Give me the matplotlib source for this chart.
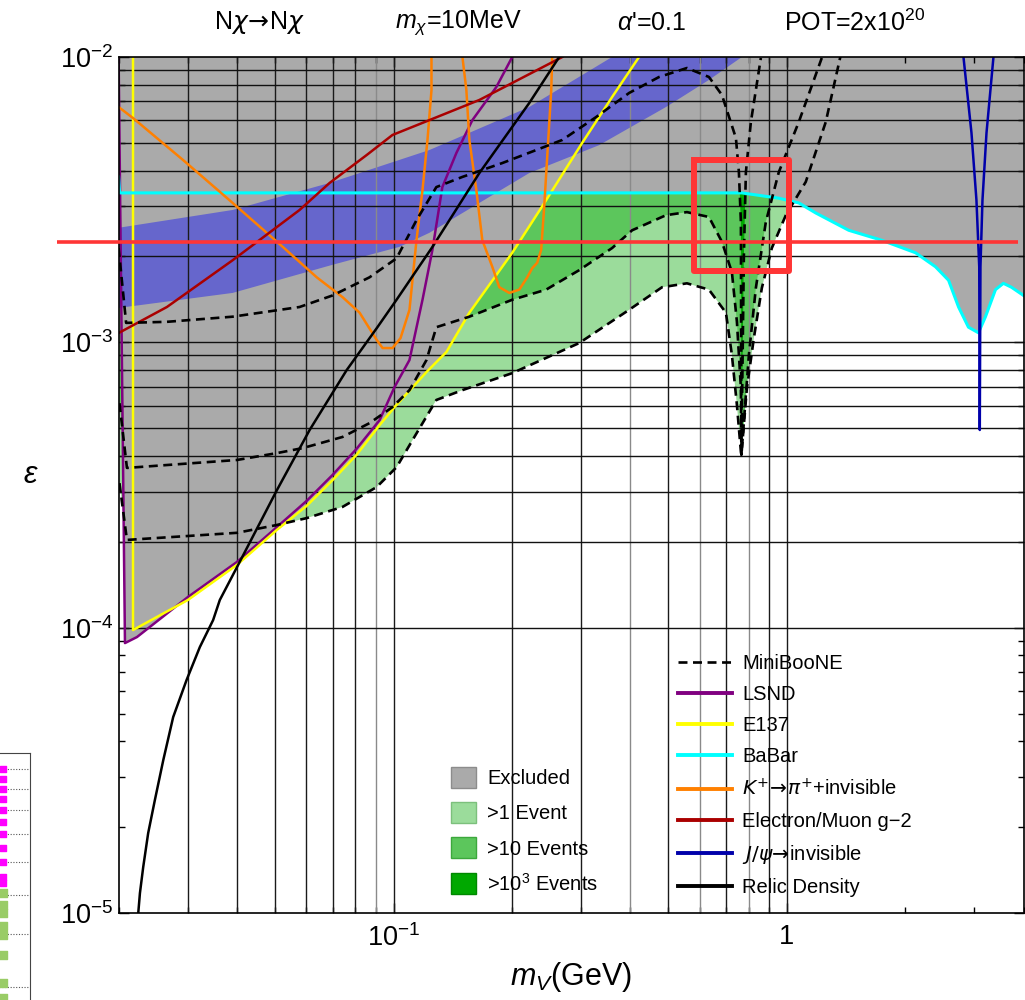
import numpy as np
import matplotlib
matplotlib.use("Agg")
import matplotlib.pyplot as plt
from matplotlib.patches import Patch
from matplotlib.lines import Line2D
from matplotlib.ticker import FixedLocator, FixedFormatter, NullFormatter

plt.rcParams['font.family'] = ['Liberation Sans', 'DejaVu Sans']
plt.rcParams['mathtext.fontset'] = 'custom'
plt.rcParams['mathtext.rm'] = 'Liberation Sans'
plt.rcParams['mathtext.it'] = 'Liberation Sans:italic'
plt.rcParams['mathtext.bf'] = 'Liberation Sans:bold'

# ---------------- data (m_V in GeV, epsilon) ----------------
lsnd_x = [0.0200, 0.02076, 0.02227, 0.0300, 0.0400, 0.0505, 0.0601, 0.0700, 0.0805, 0.0922,
          0.1006, 0.1098, 0.1185, 0.1256, 0.1331, 0.1445, 0.1587, 0.1826, 0.2004]
lsnd_y = [1.0e-2, 8.83e-5, 9.27e-5, 1.28e-4, 1.70e-4, 2.25e-4, 2.78e-4, 3.43e-4, 4.23e-4, 5.34e-4,
          6.97e-4, 8.67e-4, 1.41e-3, 2.11e-3, 3.50e-3, 4.61e-3, 6.01e-3, 7.85e-3, 1.0e-2]

e137_x = [0.02176, 0.02176, 0.0300, 0.0400, 0.0505, 0.0601, 0.0700, 0.0805, 0.0922, 0.1006,
          0.1213, 0.1363, 0.1559, 0.2004, 0.2444, 0.3018, 0.3596, 0.4210]
e137_y = [1.0e-2, 9.81e-5, 1.25e-4, 1.66e-4, 2.20e-4, 2.67e-4, 3.29e-4, 4.03e-4, 5.13e-4, 5.93e-4,
          7.87e-4, 9.25e-4, 1.27e-3, 2.06e-3, 3.15e-3, 5.00e-3, 7.24e-3, 1.0e-2]

babar_x = [0.0200, 0.02012, 0.3333, 0.7688, 0.9543, 1.0727, 1.1848, 1.4369, 1.742, 2.125,
           2.388, 2.578, 2.733, 2.896, 3.071, 3.200, 3.393, 3.554, 3.725, 3.997]
babar_y = [3.80e-3, 3.34e-3, 3.34e-3, 3.34e-3, 3.20e-3, 3.08e-3, 2.84e-3, 2.47e-3, 2.28e-3, 2.06e-3,
           1.84e-3, 1.65e-3, 1.33e-3, 1.13e-3, 1.08e-3, 1.23e-3, 1.53e-3, 1.61e-3, 1.56e-3, 1.46e-3]

kpi_a_x = [0.0200, 0.02176, 0.02914, 0.0390, 0.0523, 0.0638, 0.0742, 0.0820, 0.0906, 0.0938,
           0.0994, 0.1042, 0.1098, 0.1144, 0.1185, 0.1220, 0.1249, 0.1249]
kpi_a_y = [6.68e-3, 6.11e-3, 4.36e-3, 3.08e-3, 2.16e-3, 1.69e-3, 1.44e-3, 1.27e-3, 1.02e-3, 9.55e-4,
           9.55e-4, 1.035e-3, 1.30e-3, 2.28e-3, 3.42e-3, 5.12e-3, 7.66e-3, 1.0e-2]
kpi_b_x = [0.1497, 0.1532, 0.1559, 0.1624, 0.1682, 0.1783, 0.1858, 0.1970, 0.2088, 0.2188,
           0.2253, 0.2319, 0.2374, 0.2416, 0.2459, 0.2518, 0.2532]
kpi_b_y = [1.0e-2, 7.66e-3, 5.12e-3, 3.42e-3, 2.28e-3, 1.84e-3, 1.56e-3, 1.49e-3, 1.53e-3, 1.69e-3,
           1.82e-3, 1.90e-3, 2.11e-3, 2.98e-3, 4.46e-3, 7.66e-3, 1.0e-2]

g2_x = [0.0200, 0.02654, 0.0390, 0.0577, 0.0688, 0.0854, 0.0994, 0.1234, 0.1653, 0.2004, 0.2686]
g2_y = [1.078e-3, 1.33e-3, 1.94e-3, 2.91e-3, 3.62e-3, 4.53e-3, 5.33e-3, 6.01e-3, 7.07e-3, 8.11e-3, 1.0e-2]

jpsi_x = [2.813, 2.948, 3.035, 3.085, 3.095, 3.107, 3.144, 3.219, 3.353]
jpsi_y = [1.0e-2, 5.42e-3, 3.15e-3, 1.84e-3, 4.93e-4, 1.84e-3, 3.15e-3, 5.42e-3, 1.0e-2]

relic_x = [0.02244, 0.02266, 0.02310, 0.02378, 0.02473, 0.02598, 0.02753, 0.02977, 0.03218,
           0.03478, 0.03617, 0.0400, 0.0505, 0.0612, 0.0760, 0.0906, 0.1018, 0.1256, 0.1653,
           0.2214, 0.2638]
relic_y = [1.0e-5, 1.174e-5, 1.449e-5, 1.905e-5, 2.487e-5, 3.435e-5, 4.86e-5, 6.55e-5, 8.55e-5,
           1.063e-4, 1.25e-4, 1.63e-4, 3.03e-4, 4.93e-4, 7.99e-4, 1.12e-3, 1.41e-3, 2.16e-3, 3.92e-3,
           6.90e-3, 1.0e-2]

mb1_x = [0.0201, 0.0210, 0.0400, 0.0505, 0.0601, 0.0742, 0.0906, 0.1018, 0.1130, 0.1285,
         0.1497, 0.2004, 0.2965, 0.3972, 0.4817, 0.5573, 0.6339, 0.7001, 0.7251, 0.7467,
         0.7643, 0.7665, 0.7916, 0.8246, 0.8640, 0.9161, 0.9942, 1.1173, 1.2562, 1.3712]
mb1_y = [3.21e-4, 2.03e-4, 2.15e-4, 2.29e-4, 2.42e-4, 2.65e-4, 3.11e-4, 3.65e-4, 4.66e-4, 6.28e-4,
         6.80e-4, 7.80e-4, 9.94e-4, 1.30e-3, 1.56e-3, 1.61e-3, 1.53e-3, 1.27e-3, 9.03e-4, 6.03e-4,
         4.13e-4, 4.03e-4, 6.91e-4, 1.035e-3, 1.55e-3, 2.14e-3, 2.79e-3, 3.65e-3, 5.92e-3, 1.016e-2]

mb10_x = [0.0201, 0.0210, 0.0400, 0.0505, 0.0588, 0.0742, 0.0869, 0.0994, 0.1098, 0.1213,
          0.1285, 0.1559, 0.2004, 0.2444, 0.2965, 0.3596, 0.4043, 0.4931, 0.5573, 0.6339,
          0.6840, 0.7251, 0.7467, 0.7643, 0.7665, 0.7778, 0.8009, 0.8343, 0.8844, 0.9543,
          1.0727, 1.2271]
mb10_y = [6.12e-4, 3.63e-4, 3.87e-4, 4.09e-4, 4.26e-4, 4.66e-4, 5.21e-4, 5.93e-4, 6.80e-4, 8.67e-4,
          1.13e-3, 1.23e-3, 1.41e-3, 1.53e-3, 1.79e-3, 2.14e-3, 2.47e-3, 2.79e-3, 2.86e-3, 2.75e-3,
          2.25e-3, 1.76e-3, 1.18e-3, 6.91e-4, 4.03e-4, 5.26e-4, 9.03e-4, 1.55e-3, 2.64e-3, 3.95e-3,
          5.92e-3, 9.92e-3]

mb1000_x = [0.0200, 0.0209, 0.02654, 0.0390, 0.0577, 0.0700, 0.0869, 0.1018, 0.1144, 0.1285,
            0.1497, 0.1891, 0.2306, 0.2686, 0.3275, 0.3972, 0.4733, 0.5573, 0.6339, 0.6840,
            0.7423, 0.7554, 0.7643, 0.7665, 0.7778, 0.7870, 0.8103, 0.8590]
mb1000_y = [2.14e-3, 1.17e-3, 1.18e-3, 1.23e-3, 1.33e-3, 1.46e-3, 1.69e-3, 1.97e-3, 2.68e-3, 3.50e-3,
            3.80e-3, 4.25e-3, 4.72e-3, 5.12e-3, 6.16e-3, 7.48e-3, 8.51e-3, 9.15e-3, 8.51e-3, 7.36e-3,
            5.20e-3, 3.95e-3, 2.64e-3, 4.03e-4, 2.02e-3, 3.95e-3, 5.92e-3, 9.92e-3]

band_up_x = [0.0200, 0.0390, 0.0688, 0.1234, 0.2214, 0.3596]
band_up_y = [2.52e-3, 2.91e-3, 3.62e-3, 4.72e-3, 6.68e-3, 1.0e-2]
band_lo_x = [0.0200, 0.0390, 0.0700, 0.1035, 0.1234, 0.2214, 0.3333, 0.4931, 0.6339, 0.7688]
band_lo_y = [1.32e-3, 1.49e-3, 1.87e-3, 2.16e-3, 2.42e-3, 3.92e-3, 4.91e-3, 6.68e-3, 8.31e-3, 1.0e-2]

# annotation overlay (red line and box), in data units
mark_eps = 2.25e-3
mark_line_x = [0.01395, 3.86]
box_x = [0.581, 1.012]
box_y = [1.78e-3, 4.36e-3]

# fragment of a neighbouring figure (bottom-left corner)
side_mag_y = [231, 221, 211, 201, 190, 178, 166, 152, 138, 123, 117, 107]
side_grn_y = [107, 95, 87, 74, 65, 45, 17, 2]
side_grid_y = [231, 211, 190, 166, 138, 105, 66, 13]

# ---------------- figure ----------------
fig = plt.figure(figsize=(10.25, 10.0), dpi=100)
ax = fig.add_axes([118.6 / 1025, 87 / 1000, 905 / 1025, 856 / 1000])
ax.set_xscale('log')
ax.set_yscale('log')
ax.set_xlim(0.02, 4.0)
ax.set_ylim(1e-5, 1e-2)

GRAY = '#aaaaaa'
G1 = '#9bdc9b'
G10 = '#5cc65c'
G1000 = '#00a800'
BAND = '#6666cc'

lx = np.linspace(np.log10(0.02), np.log10(4.0), 8000)
xg = 10 ** lx


def li(xs, ys):
    return np.interp(lx, np.log10(xs), np.log10(ys), left=0.0, right=0.0)


env = np.minimum.reduce([li(lsnd_x, lsnd_y), li(e137_x[1:], e137_y[1:]), li(babar_x, babar_y)])
c1 = li(mb1_x, mb1_y)
c10 = li(mb10_x, mb10_y)
c1000 = li(mb1000_x, mb1000_y)

for c, col, z in ((c1, G1, 1.1), (c10, G10, 1.2), (c1000, G1000, 1.3)):
    ax.fill_between(xg, 10 ** c, 10 ** env, where=c < env, interpolate=True,
                    color=col, lw=0, zorder=z)
ax.fill_between(xg, 10 ** env, 1.0, color=GRAY, lw=0, zorder=1.0)
ax.fill(np.r_[band_up_x, band_lo_x[::-1]], np.r_[band_up_y, band_lo_y[::-1]],
        color=BAND, lw=0, zorder=1.5)

# grid lines (Mathematica style)
vgrid = [0.03, 0.04, 0.05, 0.06, 0.07, 0.08, 0.09, 0.1, 0.2, 0.3, 0.4, 0.5, 0.6, 0.7, 0.8, 0.9, 1.0]
light = {0.09, 0.4, 0.6, 0.8}
for v in vgrid:
    ax.vlines(v, 1e-5, 1e-2, colors='#8a8a8a' if v in light else '#1a1a1a', lw=1.0, zorder=2)
hgrid = [k * 10.0 ** e for e in (-4, -3) for k in range(1, 10)]
for h in hgrid:
    ax.hlines(h, 0.02, 4.0, colors='#111111', lw=1.0, zorder=2)

LW = 1.8
DASH = (0, (3.4, 2.1))
ax.plot(lsnd_x, lsnd_y, color='#800080', lw=LW, zorder=3)
ax.plot(e137_x, e137_y, color='#ffff00', lw=LW, zorder=3)
ax.plot(babar_x, babar_y, color='#00ffff', lw=LW + 0.4, zorder=3)
ax.plot(kpi_a_x, kpi_a_y, color='#ff8000', lw=LW, zorder=3)
ax.plot(kpi_b_x, kpi_b_y, color='#ff8000', lw=LW, zorder=3)
ax.plot(g2_x, g2_y, color='#aa0000', lw=LW, zorder=3)
ax.plot(jpsi_x, jpsi_y, color='#0000aa', lw=LW, zorder=3)
ax.plot(relic_x, relic_y, color='black', lw=LW, zorder=3)
for cx, cy in ((mb1_x, mb1_y), (mb10_x, mb10_y), (mb1000_x, mb1000_y)):
    ax.plot(cx, cy, color='black', lw=1.9, ls=DASH, zorder=3.5)

# red annotation
ax.plot(mark_line_x, [mark_eps, mark_eps], color='#ff3535', lw=2.6, zorder=6,
        clip_on=False, solid_capstyle='butt')
ax.plot([box_x[0], box_x[1], box_x[1], box_x[0], box_x[0]],
        [box_y[1], box_y[1], box_y[0], box_y[0], box_y[1]],
        color='#ff3535', lw=4.3, zorder=6, clip_on=False, solid_joinstyle='round')

# ticks
ax.xaxis.set_major_locator(FixedLocator([0.1, 1.0]))
ax.xaxis.set_major_formatter(FixedFormatter([r'$10^{-1}$', '1']))
ax.xaxis.set_minor_locator(FixedLocator([k * 0.01 for k in range(2, 10)] +
                                        [k * 0.1 for k in range(2, 10)] + [2.0, 3.0, 4.0]))
ax.xaxis.set_minor_formatter(NullFormatter())
ax.yaxis.set_major_locator(FixedLocator([1e-5, 1e-4, 1e-3, 1e-2]))
ax.yaxis.set_major_formatter(FixedFormatter([r'$10^{-5}$', r'$10^{-4}$', r'$10^{-3}$', r'$10^{-2}$']))
ax.yaxis.set_minor_locator(FixedLocator([k * 10.0 ** e for e in (-5, -4, -3) for k in range(2, 10)]))
ax.yaxis.set_minor_formatter(NullFormatter())
ax.tick_params(which='both', direction='in', top=True, right=True, width=1.0, color='black')
ax.tick_params(which='major', length=7)
ax.tick_params(which='minor', length=4)
ax.tick_params(axis='x', which='major', labelsize=19.5, pad=8)
ax.tick_params(axis='y', which='major', labelsize=19.5, pad=4)
for s in ax.spines.values():
    s.set_linewidth(1.2)
    s.set_zorder(4)

ax.set_xlabel(r'$m_V$(GeV)', fontsize=22, labelpad=6)
ax.set_ylabel(r'$\epsilon$', fontsize=22, rotation=0, labelpad=0)
ax.yaxis.set_label_coords(-88 / 905, (913 - 490) / 856)

# header texts
t0 = fig.text(260 / 1025, 0.977, r'N$\chi\!\rightarrow\!$N$\chi$', fontsize=18, ha='center', va='center')
t0.set_math_fontfamily('dejavusans')
fig.text(458 / 1025, 0.977, r'$m_\chi$=10MeV', fontsize=18, ha='center', va='center')
fig.text(652 / 1025, 0.977, r"$\alpha$'=0.1", fontsize=18, ha='center', va='center')
fig.text(855 / 1025, 0.977, r'POT=2x10$^{20}$', fontsize=18, ha='center', va='center')

# legends
line_handles = [
    Line2D([], [], color='black', lw=1.9, ls=DASH),
    Line2D([], [], color='#800080', lw=2.8),
    Line2D([], [], color='#ffff00', lw=2.8),
    Line2D([], [], color='#00ffff', lw=2.8),
    Line2D([], [], color='#ff8000', lw=2.8),
    Line2D([], [], color='#aa0000', lw=2.8),
    Line2D([], [], color='#0000aa', lw=2.8),
    Line2D([], [], color='black', lw=2.8),
]
line_labels = ['MiniBooNE', 'LSND', 'E137', 'BaBar', r'$K^{+}\!\rightarrow\!\pi^{+}$+invisible',
               'Electron/Muon g−2', r'$J/\psi\!\rightarrow\!$invisible', 'Relic Density']
leg1 = fig.legend(line_handles, line_labels, loc='upper left',
                  bbox_to_anchor=(678 / 1025, 1 - 654 / 1000), bbox_transform=fig.transFigure,
                  frameon=False, fontsize=14.5, handlelength=2.7, handletextpad=0.5,
                  labelspacing=0.6, borderpad=0, borderaxespad=0)
for i in (4, 6):
    leg1.get_texts()[i].set_math_fontfamily('dejavusans')
fill_handles = [Patch(facecolor=GRAY, edgecolor='#8c8c8c'),
                Patch(facecolor=G1, edgecolor='#7cc07c'),
                Patch(facecolor=G10, edgecolor='#3ca83c'),
                Patch(facecolor=G1000, edgecolor='#008800')]
fill_labels = ['Excluded', '>1 Event', '>10 Events', r'>10$^3$ Events']
leg2 = fig.legend(fill_handles, fill_labels, loc='upper left',
                  bbox_to_anchor=(451 / 1025, 1 - 767 / 1000), bbox_transform=fig.transFigure,
                  frameon=False, fontsize=14.5, handlelength=1.25, handleheight=1.2,
                  handletextpad=0.55, labelspacing=0.7, borderpad=0, borderaxespad=0)

# neighbouring-figure fragment
side = fig.add_axes([-50 / 1025, -10 / 1000, 80 / 1025, 257 / 1000])
side.set_xlim(0, 1)
side.set_ylim(-10, 247)
for gy in side_grid_y:
    side.axhline(gy, color='#555555', lw=0.8, ls=(0, (1, 1.5)), zorder=1)
side.scatter([0.66] * len(side_mag_y), side_mag_y, marker='s', s=22, color='#ff00ff', zorder=2)
side.scatter([0.66] * len(side_grn_y), side_grn_y, marker='s', s=26, color='#99cc66', zorder=2)
side.set_xticks([])
side.set_yticks([])
for k in ('left', 'bottom'):
    side.spines[k].set_visible(False)
side.spines['top'].set_color('#444444')
side.spines['right'].set_color('#444444')

fig.savefig('out.png', dpi=100)
